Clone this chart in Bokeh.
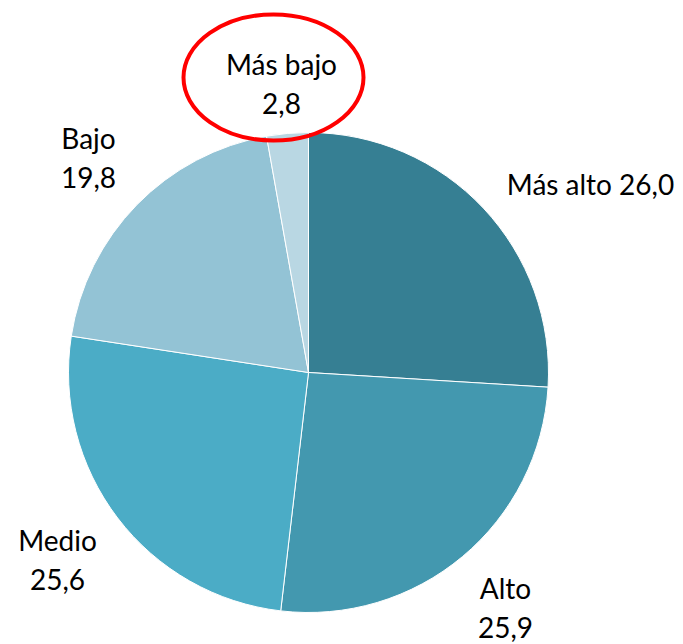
import math
from bokeh.plotting import figure
from bokeh.models import Range1d, ColumnDataSource
from bokeh.core.properties import value
from bokeh.embed import file_html
from bokeh.resources import INLINE

categories = ["Más alto", "Alto", "Medio", "Bajo", "Más bajo"]
values = [26.0, 25.9, 25.6, 19.8, 2.8]
value_labels = ["26,0", "25,9", "25,6", "19,8", "2,8"]
colors = ["#367F93", "#4398AF", "#4BACC6", "#93C3D5", "#B9D7E3"]

# layout (screen-like coordinates; y measured from top of window)
label_texts = ["Más alto 26,0", "Alto\n25,9", "Medio\n25,6", "Bajo\n19,8", "Más bajo\n2,8"]
label_x = [590, 505, 57, 88, 281]
label_y = [183, 607, 559, 157, 83]

W, H = 683, 644
cx, cy, R = 308, 644 - 372, 240

total = sum(values)
starts, ends = [], []
cum = 0.0
for v in values:
    starts.append(math.pi / 2 - cum / total * 2 * math.pi)
    cum += v
    ends.append(math.pi / 2 - cum / total * 2 * math.pi)

p = figure(width=W, height=H, output_backend="svg", toolbar_location=None,
           x_range=Range1d(0, W), y_range=Range1d(0, H),
           min_border=0)
p.axis.visible = False
p.grid.visible = False
p.outline_line_color = None
p.background_fill_color = "white"

src = ColumnDataSource(dict(x=[cx] * 5, y=[cy] * 5, s=starts, e=ends, c=colors))
p.wedge(x="x", y="y", radius=R, start_angle="s", end_angle="e", direction="clock",
        fill_color="c", line_color="white", line_width=1, source=src)

lsrc = ColumnDataSource(dict(x=label_x, y=[644 - y for y in label_y], t=label_texts))
p.text(x="x", y="y", text="t", source=lsrc, text_align="center", text_baseline="middle",
       text_font=value("Lato"), text_font_size="28px", text_color="black",
       text_line_height=1.12)

p.ellipse(x=[273], y=[644 - 77], width=[180], height=[126], fill_color=None,
          line_color="#FF0000", line_width=4)

open("out.html", "w").write(file_html(p, INLINE))
